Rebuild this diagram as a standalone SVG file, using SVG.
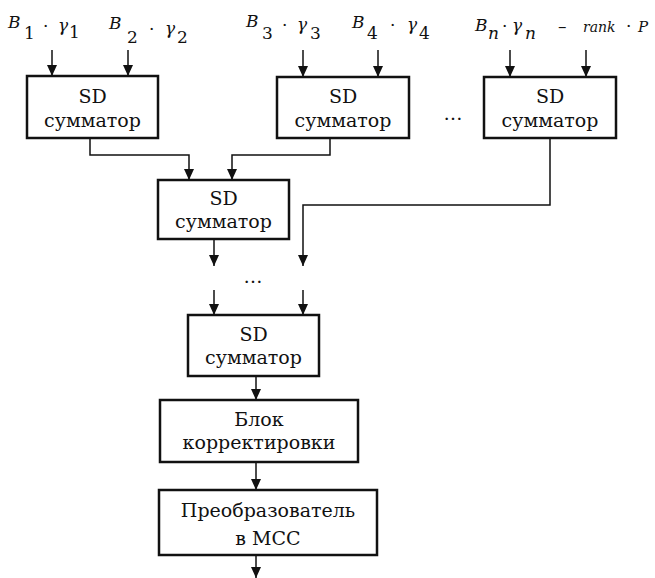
<svg xmlns="http://www.w3.org/2000/svg" width="655" height="578" viewBox="0 0 655 578">
<defs>
<marker id="ah" markerWidth="12" markerHeight="10" refX="11" refY="5" orient="auto" markerUnits="userSpaceOnUse" viewBox="0 0 12 10">
<path d="M0,0 L11,5 L0,10 Z" fill="#111"/>
</marker>
<style>
.box{fill:#fff;stroke:#111;stroke-width:2.5}
.t{font-size:19px;fill:#111;text-anchor:middle}
.m{font-size:17px;fill:#111}
.i{font-style:italic}
.c{fill:none;stroke:#111;stroke-width:1.5}
</style>
</defs>
<rect width="655" height="578" fill="#fff"/>
<g id="labels" font-family="DejaVu Serif, serif">
<text class="m i" x="8" y="28">B</text><text class="m" x="24" y="39">1</text><text class="m" x="43" y="32">·</text><text class="m i" x="58" y="31">γ</text><text class="m" x="69" y="38">1</text>
<text class="m i" x="109" y="29">B</text><text class="m" x="127" y="43">2</text><text class="m" x="149" y="35">·</text><text class="m i" x="165" y="34">γ</text><text class="m" x="177" y="43">2</text>
<text class="m i" x="246" y="27">B</text><text class="m" x="262" y="39">3</text><text class="m" x="282" y="31">·</text><text class="m i" x="297" y="30">γ</text><text class="m" x="310" y="39">3</text>
<text class="m i" x="352" y="28">B</text><text class="m" x="367" y="39">4</text><text class="m" x="390" y="31">·</text><text class="m i" x="407" y="30">γ</text><text class="m" x="419" y="39">4</text>
<text class="m i" x="475" y="31">B</text><text class="m i" x="488" y="39">n</text><text class="m" x="502" y="32">·</text><text class="m i" x="512" y="31">γ</text><text class="m i" x="525" y="39">n</text>
<text class="m" x="558" y="32">–</text><text class="m i" x="583" y="32" style="font-size:14px">rank</text><text class="m" x="626" y="32">·</text><text class="m i" x="638" y="32" style="font-size:15px">P</text>
<text class="t" x="453" y="120">…</text>
<text class="t" x="253" y="283">…</text>
</g>
<g id="connectors">
<line class="c" x1="52" y1="50" x2="52" y2="76" marker-end="url(#ah)"/>
<line class="c" x1="128" y1="50" x2="128" y2="76" marker-end="url(#ah)"/>
<line class="c" x1="303" y1="50" x2="303" y2="77" marker-end="url(#ah)"/>
<line class="c" x1="378" y1="50" x2="378" y2="77" marker-end="url(#ah)"/>
<line class="c" x1="510" y1="50" x2="510" y2="77" marker-end="url(#ah)"/>
<line class="c" x1="586" y1="50" x2="586" y2="77" marker-end="url(#ah)"/>
<polyline class="c" points="90,138 90,155 189,155 189,180" marker-end="url(#ah)"/>
<polyline class="c" points="330,138 330,155 232,155 232,180" marker-end="url(#ah)"/>
<polyline class="c" points="550,138 550,205 303,205 303,266" marker-end="url(#ah)"/>
<line class="c" x1="214" y1="239" x2="214" y2="266" marker-end="url(#ah)"/>
<line class="c" x1="214" y1="290" x2="214" y2="315" marker-end="url(#ah)"/>
<line class="c" x1="303" y1="290" x2="303" y2="315" marker-end="url(#ah)"/>
<line class="c" x1="256" y1="376" x2="256" y2="400" marker-end="url(#ah)"/>
<line class="c" x1="256" y1="462" x2="256" y2="490" marker-end="url(#ah)"/>
<line class="c" x1="256" y1="555" x2="256" y2="578" marker-end="url(#ah)"/>
</g>
<g font-family="DejaVu Serif, serif">
<g id="sd1"><rect class="box" x="27" y="76" width="131" height="62"/><text class="t" x="92.5" y="103">SD</text><text class="t" x="92.5" y="127">сумматор</text></g>
<g id="sd2"><rect class="box" x="277" y="77" width="132" height="61"/><text class="t" x="343" y="103">SD</text><text class="t" x="343" y="127">сумматор</text></g>
<g id="sd3"><rect class="box" x="484" y="77" width="132" height="61"/><text class="t" x="550" y="103">SD</text><text class="t" x="550" y="127">сумматор</text></g>
<g id="sd4"><rect class="box" x="158" y="180" width="131" height="59"/><text class="t" x="223.5" y="205">SD</text><text class="t" x="223.5" y="228">сумматор</text></g>
<g id="sd5"><rect class="box" x="188" y="315" width="131" height="61"/><text class="t" x="253.5" y="341">SD</text><text class="t" x="253.5" y="364">сумматор</text></g>
<g id="corr"><rect class="box" x="160" y="400" width="198" height="62"/><text class="t" x="259" y="426">Блок</text><text class="t" x="259" y="449">корректировки</text></g>
<g id="conv"><rect class="box" x="159" y="490" width="218" height="65"/><text class="t" x="268" y="517">Преобразователь</text><text class="t" x="268" y="545">в МСС</text></g>
</g>
</svg>
